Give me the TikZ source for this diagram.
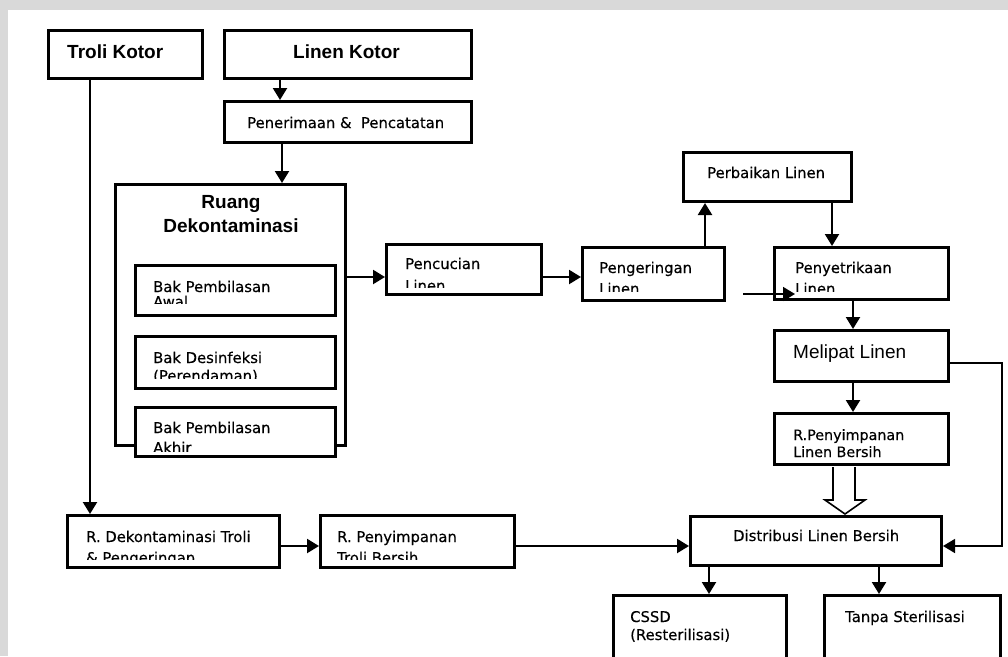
\documentclass[tikz,border=0pt]{standalone}
\usepackage{fontspec}
\setmainfont{DejaVu Sans}
\newfontfamily\bodyf[FakeBold=0.35]{DejaVu Sans}
\newfontfamily\arialf{Liberation Sans}
\usetikzlibrary{arrows.meta}

\definecolor{pagegrey}{RGB}{217,217,217}

\tikzset{
  box/.style={draw, line width=3pt, fill=white, inner sep=0pt},
  conn/.style={line width=2.2pt, -{Triangle[length=12pt,width=14pt]}},
  thinconn/.style={line width=1.6pt, -{Triangle[length=12pt,width=14pt]}},
  txt/.style={inner sep=0pt, anchor=base west, font=\bodyf\fontsize{14.8}{17}\selectfont},
  title/.style={inner sep=0pt, anchor=base west, font=\arialf\bfseries\fontsize{19}{22}\selectfont},
  bigtxt/.style={inner sep=0pt, anchor=base west, font=\arialf\fontsize{19}{22}\selectfont},
  blockarrow/.style={draw, line width=1.6pt, fill=white, line join=miter},
}

% second text line cut off by the lower edge of its box
\newcommand\cutline[5]{%
  \begin{scope}
    \clip (0,0) rectangle (1008,#4);
    \node[txt] (#1) at (#2,#3) {#5};
  \end{scope}}

\begin{document}
\begin{tikzpicture}[x={(1pt,0)}, y={(0,-1pt)}]
\useasboundingbox (0,0) rectangle (1008,656);
\fill[pagegrey] (0,0) rectangle (1008,656);
\fill[white] (8,10) rectangle (1008,656);

% ---- boxes ----
\node[box, minimum width=154pt, minimum height=48pt] (tk) at (125.5,54.5) {};
\node[box, minimum width=247pt, minimum height=48pt] (lk) at (348,54.5) {};
\node[box, minimum width=247pt, minimum height=41pt] (pp) at (348,122) {};
\node[box, minimum width=230pt, minimum height=261pt] (rd) at (230.5,315) {};
\node[box, minimum width=200pt, minimum height=50pt] (ba) at (235.5,290.5) {};
\node[box, minimum width=200pt, minimum height=52pt] (bd) at (235.5,362.5) {};
\node[box, minimum width=200pt, minimum height=49pt] (bk) at (235.5,432) {};
\node[box, minimum width=155pt, minimum height=50pt] (pc) at (464,269.5) {};
\node[box, minimum width=142pt, minimum height=53pt] (pg) at (653.5,274) {};
\node[box, minimum width=168pt, minimum height=49pt] (pb) at (767.5,177) {};
\node[box, minimum width=174pt, minimum height=52pt] (ps) at (861.5,273.5) {};
\node[box, minimum width=174pt, minimum height=51pt] (ml) at (861.5,356) {};
\node[box, minimum width=174pt, minimum height=51pt] (rp) at (861.5,439) {};
\node[box, minimum width=251pt, minimum height=49pt] (dl) at (816,541) {};
\node[box, minimum width=212pt, minimum height=52pt] (dt) at (173.5,541.5) {};
\node[box, minimum width=194pt, minimum height=52pt] (rt) at (417.5,541.5) {};
\node[box, minimum width=173pt, minimum height=103pt] (cs) at (700,647) {};
\node[box, minimum width=176pt, minimum height=103pt] (ts) at (912.5,647) {};

% ---- texts ----
\node[title] (tkT) at (67,58) {Troli Kotor};
\node[title] (lkT) at (293,58) {Linen Kotor};
\node[txt] (ppT) at (247,128) {Penerimaan \& \ Pencatatan};
\node[title, anchor=base] (rdT1) at (231,208) {Ruang};
\node[title, anchor=base] (rdT2) at (231,232) {Dekontaminasi};

\node[txt] (baT) at (153,292) {Bak Pembilasan};
\cutline{baT2}{153}{307}{303}{Awal}
\node[txt] (bdT) at (153,363) {Bak Desinfeksi};
\cutline{bdT2}{153}{381}{378}{(Perendaman)}
\node[txt] (bkT) at (153,433) {Bak Pembilasan};
\cutline{bkT2}{153}{453}{451}{Akhir}

\node[txt] (pcT) at (405,269) {Pencucian};
\cutline{pcT2}{405}{291}{287}{Linen}
\node[txt] (pgT) at (599,273) {Pengeringan};
\cutline{pgT2}{599}{294}{291}{Linen}
\node[txt] (pbT) at (707,178) {Perbaikan Linen};
\node[txt] (psT) at (795,273) {Penyetrikaan};
\cutline{psT2}{795}{294}{291}{Linen}
\node[bigtxt] (mlT) at (793,358) {Melipat Linen};
\node[txt, font=\bodyf\fontsize{14.3}{17}\selectfont] (rpT) at (793,440) {R.Penyimpanan};
\node[txt, font=\bodyf\fontsize{14.3}{17}\selectfont] (rpT2) at (793,457) {Linen Bersih};
\node[txt] (dlT) at (733,541) {Distribusi Linen Bersih};
\node[txt] (dtT) at (86,542) {R. Dekontaminasi Troli};
\cutline{dtT2}{86}{563}{559}{\& Pengeringan}
\node[txt] (rtT) at (337,542) {R. Penyimpanan};
\cutline{rtT2}{337}{563}{559}{Troli Bersih}
\node[txt] (csT) at (630,622) {CSSD};
\node[txt] (csT2) at (630,640) {(Resterilisasi)};
\node[txt] (tsT) at (845,622) {Tanpa Sterilisasi};

% ---- connectors ----
\draw[conn] ([xshift=43pt]tk.south west) -- ([xshift=43pt]tk.south west |- dt.north);
\draw[conn] ([xshift=57pt]lk.south west) -- ([xshift=57pt]lk.south west |- pp.north);
\draw[conn] ([xshift=59pt]pp.south west) -- ([xshift=59pt]pp.south west |- rd.north);
\draw[conn] (rd.east |- pc.west) ++(0,7.5) coordinate (r1) -- (r1 -| pc.west);
\draw[conn] ([yshift=-7.5pt]pc.east) -- ([yshift=-7.5pt]pc.east -| pg.west);
\draw[conn] ([xshift=124pt]pg.north west) -- ([xshift=124pt]pg.north west |- pb.south);
\draw[conn] ([xshift=150pt]pb.south west) -- ([xshift=150pt]pb.south west |- ps.north);
\coordinate (lz1) at (743,294);
\coordinate (lz2) at (795,294);
\draw[thinconn] (lz1) -- (lz2);
\draw[conn] ([xshift=80pt]ps.south west) -- ([xshift=80pt]ps.south west |- ml.north);
\draw[conn] ([xshift=80pt]ml.south west) -- ([xshift=80pt]ml.south west |- rp.north);
\draw[thinconn] ([yshift=-7pt]ml.east) -- ++(52,0) |- ([yshift=-5pt]dl.east);
\draw[conn] ([yshift=-4.5pt]dt.east) -- ([yshift=-4.5pt]dt.east -| rt.west);
\draw[conn] ([yshift=-4.5pt]rt.east) -- ([yshift=-4.5pt]rt.east -| dl.west);
\draw[conn] ([xshift=20pt]dl.south west) -- ([xshift=20pt]dl.south west |- cs.north);
\draw[conn] ([xshift=190pt]dl.south west) -- ([xshift=190pt]dl.south west |- ts.north);

% hollow block arrow from clean-linen storage to distribution
\draw[blockarrow] (833,467) -- (833,500) -- (825,500) -- (845,514)
  -- (865,500) -- (855,500) -- (855,467);
\end{tikzpicture}
\end{document}
